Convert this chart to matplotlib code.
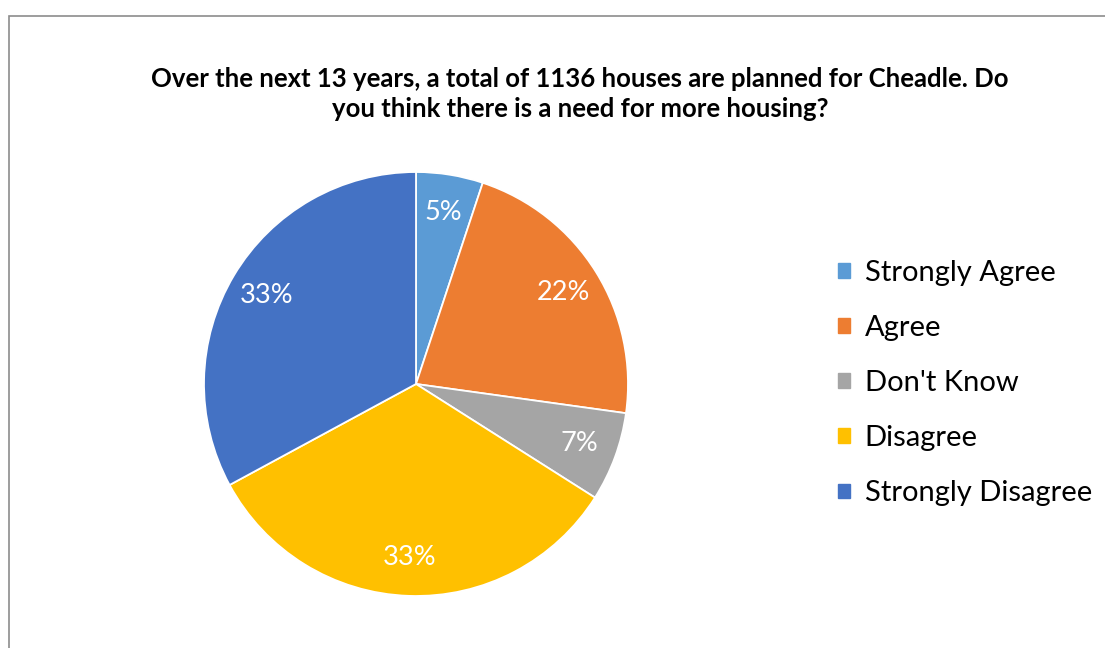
import matplotlib.pyplot as plt
from matplotlib.patches import Rectangle, Patch

# survey answers (percent)
categories = ["Strongly Agree", "Agree", "Don't Know", "Disagree", "Strongly Disagree"]
shares = [5.1, 22.1, 6.8, 33.1, 32.9]
colors = ["#5B9BD5", "#ED7D31", "#A5A5A5", "#FFC000", "#4472C4"]
title = ("Over the next 13 years, a total of 1136 houses are planned for Cheadle. Do\n"
         "you think there is a need for more housing?")

plt.rcParams["font.family"] = ["Lato", "DejaVu Sans"]

W, H = 1105, 648
fig = plt.figure(figsize=(W / 100, H / 100), dpi=100)

# chart frame (left and top edges visible)
fig.patches.append(Rectangle((8.5 / W, -0.1), 1.2, 1 - 15.5 / H + 0.1,
                             transform=fig.transFigure, fill=False,
                             edgecolor="#8c8c8c", linewidth=1.2))

ax = fig.add_axes([204 / W, 52 / H, 424 / W, 424 / H])
wedges, texts, autotexts = ax.pie(
    shares, colors=colors, startangle=90, counterclock=False,
    autopct="%1.0f%%", pctdistance=0.82,
    wedgeprops=dict(edgecolor="white", linewidth=1.3),
    textprops=dict(color="white", fontsize=19.5))
ax.set_xlim(-1, 1)
ax.set_ylim(-1, 1)
ax.set_aspect("equal")
ax.axis("off")

fig.text(580 / W, 1 - 94 / H, title, ha="center", va="center",
         fontsize=18.5, fontweight="bold", linespacing=1.3)

handles = [Patch(facecolor=c, edgecolor=c) for c in colors]
fig.legend(handles, categories, loc="center left",
           bbox_to_anchor=(812 / W, 1 - 383 / H), frameon=False,
           fontsize=21, handlelength=0.4, handleheight=0.4,
           handletextpad=0.5, labelspacing=1.0)

fig.savefig("out.png", dpi=100, facecolor="white")
